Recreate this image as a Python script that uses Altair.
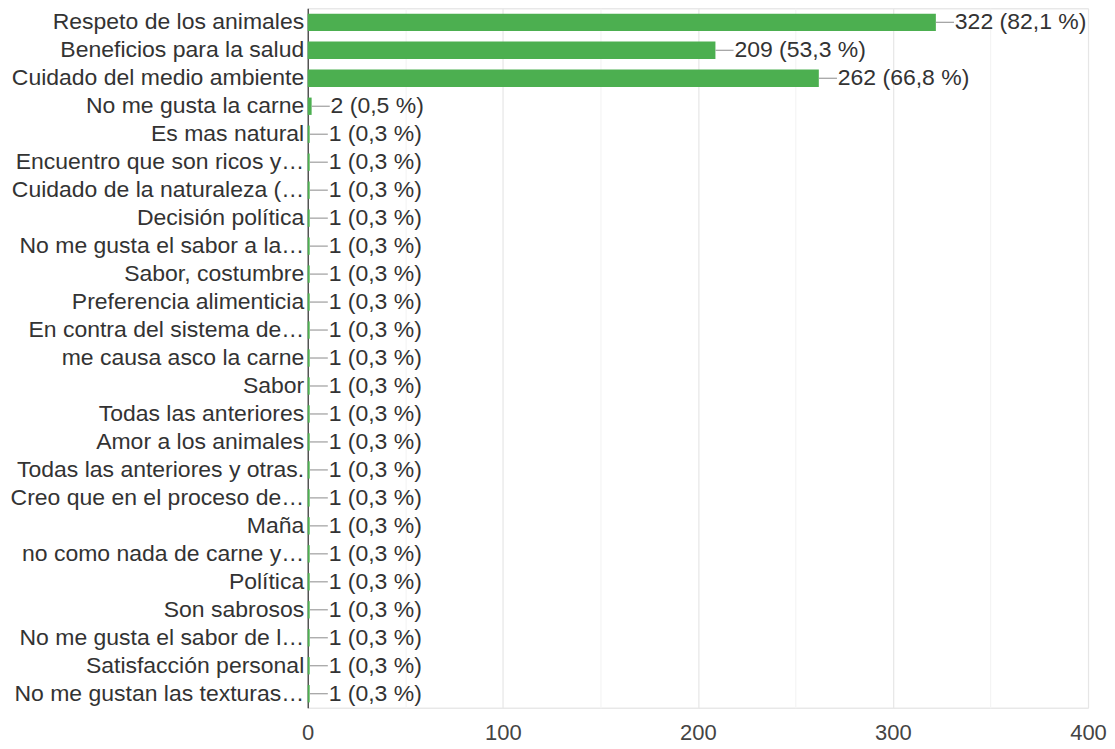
import altair as alt
import pandas as pd

categories = [
    "Respeto de los animales",
    "Beneficios para la salud",
    "Cuidado del medio ambiente",
    "No me gusta la carne",
    "Es mas natural",
    "Encuentro que son ricos y…",
    "Cuidado de la naturaleza (…",
    "Decisión política",
    "No me gusta el sabor a la…",
    "Sabor, costumbre",
    "Preferencia alimenticia",
    "En contra del sistema de…",
    "me causa asco la carne",
    "Sabor",
    "Todas las anteriores",
    "Amor a los animales",
    "Todas las anteriores y otras.",
    "Creo que en el proceso de…",
    "Maña",
    "no como nada de carne y…",
    "Política",
    "Son sabrosos",
    "No me gusta el sabor de l…",
    "Satisfacción personal",
    "No me gustan las texturas…",
]
values = [322, 209, 262, 2] + [1] * 21
percents = ["82,1", "53,3", "66,8", "0,5"] + ["0,3"] * 21

df = pd.DataFrame({
    "cat": categories,
    "value": values,
    "label": [f"{v} ({p} %)" for v, p in zip(values, percents)],
})

FONT = "Liberation Sans"
FS = 23

y = alt.Y(
    "cat:N",
    sort=categories,
    scale=alt.Scale(paddingInner=0.38, paddingOuter=0.19),
    axis=alt.Axis(
        title=None, labelFontSize=FS, labelColor="#333333", labelFont=FONT,
        ticks=False, domainColor="#333333", domainWidth=1.2, labelPadding=4,
        minExtent=300, maxExtent=300, labelLimit=300, grid=False,
    ),
)
x = alt.X(
    "value:Q",
    scale=alt.Scale(domain=[0, 400], nice=False),
    axis=alt.Axis(
        title=None, values=[0, 50, 100, 150, 200, 250, 300, 350, 400],
        labelExpr="datum.value % 100 === 0 ? datum.label : ''",
        labelFontSize=22, labelColor="#444444", labelFont=FONT,
        ticks=False, domain=False, labelPadding=15, labelFlush=False,
        gridColor={"condition": {"test": "datum.value % 100 === 0", "value": "#e6e6e6"}, "value": "#f4f4f4"},
        gridWidth=1.2,
    ),
)

base = alt.Chart(df)

bars = base.mark_bar(color="#4CAF50").encode(x=x, y=y)

leaders = base.transform_calculate(end="datum.value + 9.3").mark_rule(
    color="#9e9e9e", strokeWidth=1.2
).encode(x="value:Q", x2="end:Q", y=alt.Y("cat:N", sort=categories))

texts = base.mark_text(
    align="left", baseline="middle", dx=19, fontSize=FS, font=FONT, color="#333333"
).encode(x="value:Q", y=alt.Y("cat:N", sort=categories), text="label:N")

chart = (
    alt.layer(bars, leaders, texts)
    .properties(width=781, height=700, padding={"left": 0, "top": 0, "right": 0, "bottom": 0})
    .configure_view(stroke="#e6e6e6")
    .configure(background="white")
)

chart.save("out.html", embed_options={"renderer": "svg", "actions": False})
